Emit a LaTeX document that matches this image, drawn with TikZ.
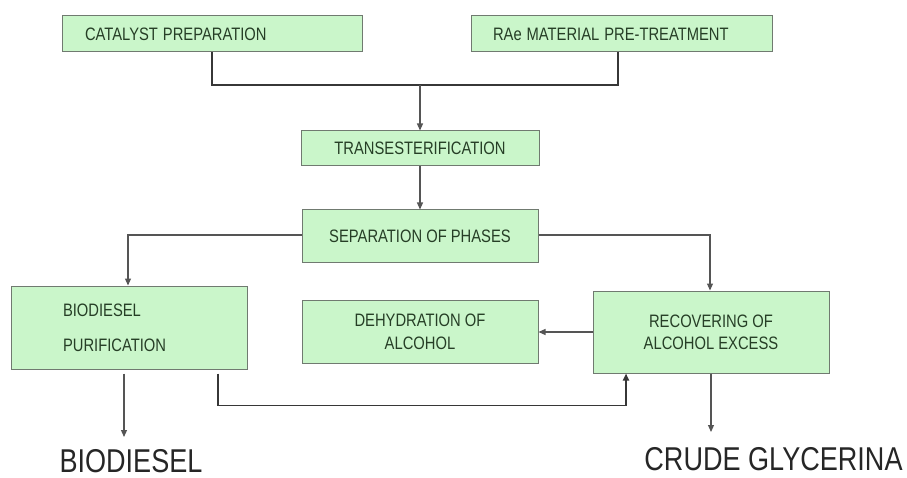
\documentclass[tikz,border=0pt]{standalone}
\usepackage{fontspec}
\setmainfont{Liberation Sans}
\usetikzlibrary{arrows.meta}
\definecolor{boxfill}{RGB}{202,246,202}
\definecolor{boxline}{RGB}{112,122,112}
\definecolor{txt}{RGB}{38,62,38}
\definecolor{conn}{RGB}{85,85,85}
\definecolor{connd}{RGB}{55,55,55}
\newcommand{\nar}[1]{\scalebox{0.82}[1]{#1}}
\tikzset{
  box/.style={draw=boxline, line width=1pt, fill=boxfill, text=txt, inner sep=0pt,
              font=\fontsize{18}{18}\selectfont},
  conn/.style={draw=conn, line width=1.2pt},
  connthick/.style={draw=connd, line width=1.8pt},
  tip/.style={-{Triangle[length=7pt,width=6pt]}},
  outtext/.style={font=\fontsize{33}{33}\selectfont, text=black!85, inner sep=0pt},
}
\begin{document}
\begin{tikzpicture}[x=1pt,y=-1pt]
\useasboundingbox (0,0) rectangle (907,478);
% boxes
\node[box, minimum width=300, minimum height=36, text width=254, align=left] (cat) at (212,34) {\nar{CATALYST PREPARATION}};
\node[box, minimum width=301, minimum height=36, text width=257, align=left] (rae) at (621.5,34) {\nar{RAe MATERIAL PRE-TREATMENT}};
\node[box, minimum width=238, minimum height=35] (trans) at (420,148.5) {\nar{TRANSESTERIFICATION}};
\node[box, minimum width=236, minimum height=53] (sep) at (420,236.5) {\nar{SEPARATION OF PHASES}};
\node[box, minimum width=236, minimum height=83, text width=132, align=left] (bio) at (129,327.5) {\nar{BIODIESEL}\\[17pt]\nar{PURIFICATION}};
\node[box, minimum width=236, minimum height=63, align=center, font=\fontsize{18}{23}\selectfont] (dehy) at (420,331.5) {\nar{DEHYDRATION OF}\\\nar{ALCOHOL}};
\node[box, minimum width=236, minimum height=82, align=center, font=\fontsize{18}{22}\selectfont] (rec) at (711,332) {\nar{RECOVERING OF}\\\nar{ALCOHOL EXCESS}};
% outputs
\node[outtext] (biod) at (131,461) {\nar{BIODIESEL}};
\node[outtext] (crude) at (773.5,459) {\nar{CRUDE GLYCERINA}};
% coordinates
\coordinate (j) at (420,85);
\coordinate (bt) at (124,437);
\coordinate (ct) at (711,432);
% connectors
\draw[connthick] (cat.south) |- (j) -| ([xshift=-3.5]rae.south);
\draw[conn, tip] (j) -- (trans.north);
\draw[conn, tip] (trans.south) -- (sep.north);
\draw[conn, tip] ([yshift=1.5]sep.west) -| ([xshift=-1]bio.north);
\draw[conn, tip] ([yshift=1.5]sep.east) -| ([xshift=-1]rec.north);
\draw[conn, tip] (rec.west) -- (rec.west -| dehy.east);
\draw[connthick, tip] ([shift={(89,4)}]bio.south) |- ([shift={(-85,32)}]rec.south) -- ([xshift=-85]rec.south);
\draw[conn, tip] ([shift={(-5,4)}]bio.south) -- (bt);
\draw[conn, tip] (rec.south) -- (ct);
\end{tikzpicture}
\end{document}
